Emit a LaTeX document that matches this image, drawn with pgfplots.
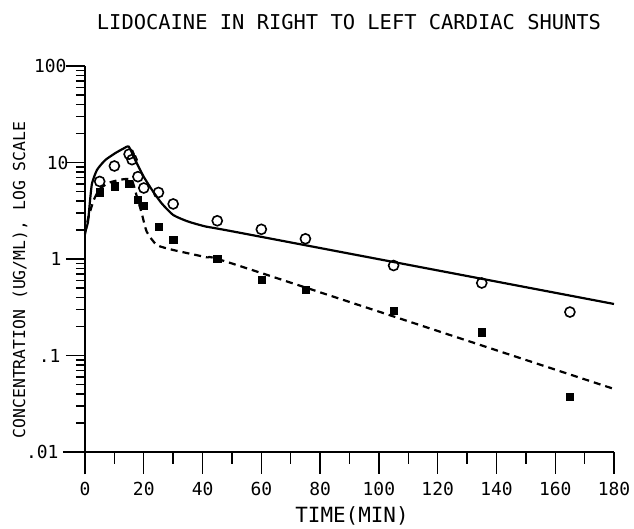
\documentclass[border=0pt]{standalone}
\usepackage{fontspec}
\setmainfont{DejaVu Sans Mono}
\usepackage{pgfplots}
\pgfplotsset{compat=1.18}
\begin{document}
\begin{tikzpicture}
\useasboundingbox (-85bp,-77bp) rectangle (549bp,452bp);
% y axis with its own (shorter) ticks
\begin{axis}[
  axis y line=left, axis x line=none,
  at={(0,0)}, anchor=south west,
  scale only axis, width=529bp, height=386bp,
  xmin=0, xmax=180, ymode=log, ymin=0.01, ymax=100,
  axis line style={-, line width=1.6bp, shorten <=-22bp},
  tick align=outside,
  tick style={line width=1.4bp, black},
  clip=false,
  major tick length=19bp, minor tick length=9bp,
  xtick=\empty,
  ytick={0.01,0.1,1,10,100},
  yticklabels={.01\kern10bp,.1\kern8bp,1\kern7bp,10,100\kern2bp},
  minor ytick={0.02,0.03,0.04,0.05,0.06,0.07,0.08,0.09,0.2,0.3,0.4,0.5,0.6,0.7,0.8,0.9,2,3,4,5,6,7,8,9,20,30,40,50,60,70,80,90},
  yticklabel style={font=\fontsize{18}{18}\selectfont, anchor=east, xshift=6bp},
]
\addplot[draw=none, forget plot] coordinates {(0,1)};
\end{axis}
\begin{axis}[
  axis x line=bottom, axis y line=left,
  at={(0,0)}, anchor=south west,
  scale only axis, width=529bp, height=386bp,
  xmin=0, xmax=180, ymode=log, ymin=0.01, ymax=100,
  axis line style={-, line width=1.6bp, shorten <=-22bp},
  tick align=outside,
  tick style={line width=1.4bp, black},
  clip=false,
  major tick length=22bp, minor tick length=12bp,
  ytick=\empty,
  xtick={0,20,...,180},
  minor xtick={10,30,...,170},
  xticklabels={0,20,40,60,80,100,120,140,160,180},
  xticklabel style={font=\fontsize{18}{18}\selectfont, yshift=-5bp},
]
% solid model curve
\addplot[black, line width=2.2bp, smooth, tension=0.35] coordinates {
(0,1.9) (1,2.4) (1.7,4.0) (2.4,6.1) (4.1,8.4) (6.9,10.6) (10.3,12.5) (13,13.9) (14.9,14.6)
(17.1,10.6) (20,7.1) (22.8,5.2) (26,3.8) (30,2.86) (35,2.45) (41.4,2.16) (52.7,1.87) (180,0.342)};
% dashed model curve
\addplot[black, line width=2.2bp, dash pattern=on 7bp off 5bp, smooth, tension=0.35] coordinates {
(0,1.8) (1.1,2.66) (3,4.1) (5,5.3) (8.3,6.2) (13,6.7) (15.9,6.6) (17.5,4.6) (19.3,2.98)
(21,1.92) (24.4,1.40) (30,1.24) (41.4,1.04) (51.6,0.867) (180,0.045)};
% open circles
\addplot[only marks, mark=o, mark size=5bp, mark options={line width=1.6bp, black}] coordinates {
(5,6.36) (10,9.2) (15,12.2) (16,10.7) (18,7.13) (20,5.44) (25,4.89) (30,3.72)
(45,2.49) (60,2.03) (75,1.62) (105,0.856) (135,0.564) (165,0.282)};
% filled squares
\addplot[only marks, mark=square*, mark size=3.6bp, mark options={black}] coordinates {
(5,4.92) (10,5.67) (15,6.06) (18,4.09) (20,3.54) (25,2.16) (30,1.58)
(45,1.0) (60,0.606) (75,0.485) (105,0.294) (135,0.174) (165,0.0372)};
\end{axis}
\node[font=\fontsize{20.5}{20.5}\selectfont] at (264bp,430bp) {LIDOCAINE IN RIGHT TO LEFT CARDIAC SHUNTS};
\node[font=\fontsize{16.5}{16.5}\selectfont, rotate=90] at (-65bp,172bp) {CONCENTRATION (UG/ML), LOG SCALE};
\node[font=\fontsize{21}{21}\selectfont] at (267bp,-64bp) {TIME(MIN)};
\end{tikzpicture}
\end{document}
